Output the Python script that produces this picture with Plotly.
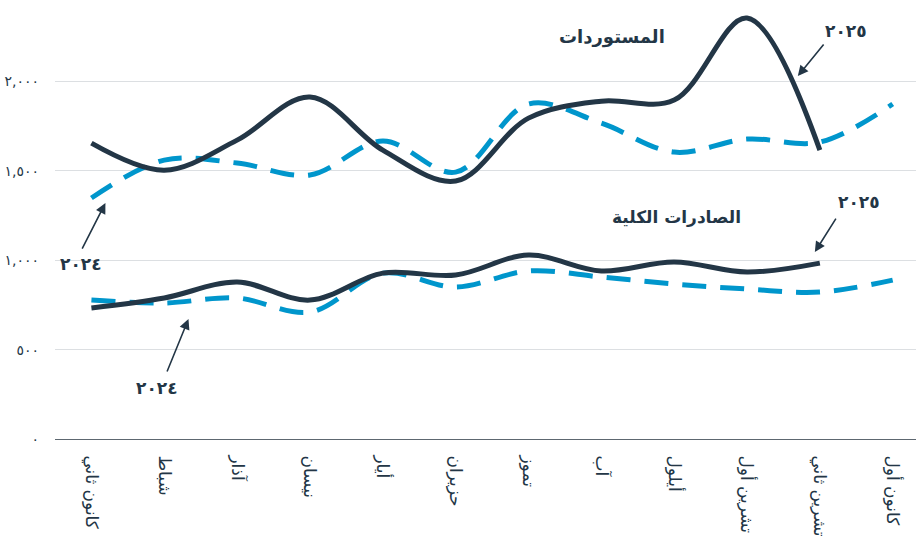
import plotly.graph_objects as go

months = ["كانون ثاني", "شباط", "آذار", "نيسان", "أيار", "حزيران",
          "تموز", "آب", "أيلول", "تشرين أول", "تشرين ثاني", "كانون أول"]

imports_2025 = [1655, 1504, 1672, 1913, 1616, 1443, 1795, 1890, 1896, 2355, 1616, None]
imports_2024 = [1348, 1560, 1544, 1477, 1667, 1493, 1874, 1767, 1605, 1678, 1661, 1874]
exports_2025 = [733, 789, 878, 777, 928, 917, 1029, 940, 990, 934, 984, None]
exports_2024 = [777, 761, 789, 710, 928, 850, 940, 906, 867, 839, 822, 889]

y_ticks = [0, 500, 1000, 1500, 2000]
y_tick_text = ["٠", "٥٠٠", "١,٠٠٠", "١,٥٠٠", "٢,٠٠٠"]

DARK = "#233646"
BLUE = "#0096cc"
FONT = "DejaVu Sans"

x = list(range(len(months)))

fig = go.Figure()

def add(series, color, dash):
    fig.add_trace(go.Scatter(
        x=x, y=series, mode="lines",
        line=dict(color=color, width=5, dash=dash, shape="spline", smoothing=1),
        connectgaps=False, hoverinfo="skip", showlegend=False))

add(imports_2024, BLUE, "24px,14px")
add(exports_2024, BLUE, "24px,14px")
add(imports_2025, DARK, "solid")
add(exports_2025, DARK, "solid")

# pixel->data helpers for annotation placement
def px_x(p):
    return (p - 92) / 72.8

def px_y(p):
    return (439 - p) / 0.1788

def label(text, xp, yp, size=16):
    fig.add_annotation(x=px_x(xp), y=px_y(yp), xref="x", yref="y", text=f"<b>{text}</b>",
                       showarrow=False, font=dict(family=FONT, size=size, color=DARK))

def arrow(x0, y0, x1, y1):
    fig.add_annotation(x=px_x(x1), y=px_y(y1), ax=px_x(x0), ay=px_y(y0),
                       xref="x", yref="y", axref="x", ayref="y", text="",
                       showarrow=True, arrowhead=2, arrowsize=1.3, arrowwidth=1.6,
                       arrowcolor=DARK)

label("المستوردات", 612, 37, 18)
label("الصادرات الكلية", 677, 217, 17)
label("٢٠٢٥", 846, 31, 17)
arrow(825, 43, 798, 76)
label("٢٠٢٥", 859, 202, 17)
arrow(837, 217, 815, 252)
label("٢٠٢٤", 82, 264, 17)
arrow(82, 250, 106, 203)
label("٢٠٢٤", 158, 388, 17)
arrow(167, 373, 189, 319)

fig.update_xaxes(
    range=[-0.5, 11.32], tickvals=x, ticktext=months, tickangle=90,
    showgrid=False, zeroline=False, showline=True, linecolor="#5d6770", linewidth=1,
    ticks="", ticklabelstandoff=12,
    tickfont=dict(family=FONT, size=17, color=DARK), fixedrange=True)
fig.update_yaxes(
    range=[0, 2400], tickvals=y_ticks, ticktext=y_tick_text,
    showgrid=True, gridcolor="#dcdfe2", gridwidth=1, zeroline=False,
    ticks="", ticklabelstandoff=15,
    tickfont=dict(family=FONT, size=14, color=DARK), fixedrange=True)

fig.update_layout(
    width=916, height=541,
    margin=dict(l=55, r=0, t=10, b=102),
    plot_bgcolor="white", paper_bgcolor="white",
    showlegend=False)

fig.write_html("out.html", config={"displayModeBar": False},
               post_script="document.body.style.margin='0';")
